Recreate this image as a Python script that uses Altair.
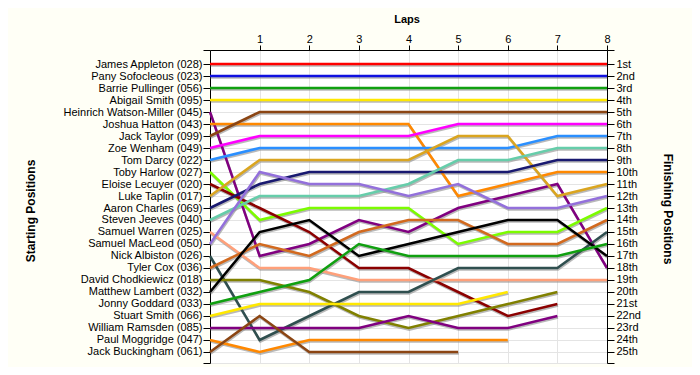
import json
import altair as alt
import pandas as pd

# Drivers in starting order (index 0 = starting position 1)
drivers = [
    "James Appleton (028)", "Pany Sofocleous (023)", "Barrie Pullinger (056)",
    "Abigail Smith (095)", "Heinrich Watson-Miller (045)", "Joshua Hatton (043)",
    "Jack Taylor (099)", "Zoe Wenham (049)", "Tom Darcy (022)", "Toby Harlow (027)",
    "Eloise Lecuyer (020)", "Luke Taplin (017)", "Aaron Charles (069)",
    "Steven Jeeves (040)", "Samuel Warren (025)", "Samuel MacLeod (050)",
    "Nick Albiston (026)", "Tyler Cox (036)", "David Chodkiewicz (018)",
    "Matthew Lambert (032)", "Jonny Goddard (033)", "Stuart Smith (066)",
    "William Ramsden (085)", "Paul Moggridge (047)", "Jack Buckingham (061)",
]
colors = [
    "#ff0000", "#1010e0", "#10a010", "#ffe800", "#800080", "#ff8800",
    "#8b4513", "#ff00ff", "#2a8fff", "#7cfc00", "#8b0000", "#daa520",
    "#191970", "#66cdaa", "#ffa07a", "#9370db", "#2f4f4f", "#d2691e",
    "#808000", "#000000", "#10a010", "#ffe800", "#800080", "#ff8800",
    "#8b4513",
]
finish_labels = [
    "1st", "2nd", "3rd", "4th", "5th", "6th", "7th", "8th", "9th", "10th",
    "11th", "12th", "13th", "14th", "15th", "16th", "17th", "18th", "19th",
    "20th", "21st", "22nd", "23rd", "24th", "25th",
]
lap_ticks = [1, 2, 3, 4, 5, 6, 7, 8]

# Position of each driver (same order as drivers) after each lap; None = retired
lap0 = [1, 2, 3, 4, 5, 6, 7, 8, 9, 10, 11, 12, 13, 14, 15, 16, 17, 18, 19, 20, 21, 22, 23, 24, 25]
lap1 = [1, 2, 3, 4, 17, 6, 5, 7, 8, 14, 13, 9, 11, 12, 18, 10, 24, 16, 19, 15, 20, 21, 23, 25, 22]
lap2 = [1, 2, 3, 4, 16, 6, 5, 7, 8, 13, 15, 9, 10, 12, 18, 11, 22, 17, 20, 14, 19, 21, 23, 24, 25]
lap3 = [1, 2, 3, 4, 14, 6, 5, 7, 8, 13, 18, 9, 10, 12, 19, 11, 20, 15, 22, 17, 16, 21, 23, 24, 25]
lap4 = [1, 2, 3, 4, 15, 6, 5, 7, 8, 13, 18, 9, 10, 11, 19, 12, 20, 14, 23, 16, 17, 21, 22, 24, 25]
lap5 = [1, 2, 3, 4, 13, 12, 5, 6, 8, 16, 20, 7, 10, 9, 19, 11, 18, 14, 22, 15, 17, 21, 23, 24, 25]
lap6 = [1, 2, 3, 4, 12, 11, 5, 6, 8, 15, 22, 7, 10, 9, 19, 13, 18, 16, 21, 14, 17, 20, 23, 24, None]
lap7 = [1, 2, 3, 4, 11, 10, 5, 6, 7, 15, 21, 12, 9, 8, 19, 13, 18, 16, 20, 14, 17, None, 22, None, None]
lap8 = [1, 2, 3, 4, 18, 10, 5, 6, 7, 13, None, 11, 9, 8, 19, 12, 15, 14, None, 17, 16, None, None, None, None]
laps = [lap0, lap1, lap2, lap3, lap4, lap5, lap6, lap7, lap8]

rows = []
for li, lap in enumerate(laps):
    for d, p in zip(drivers, lap):
        if p is not None:
            rows.append({"driver": d, "lap": li, "pos": p})
df = pd.DataFrame(rows)

Y0, Y1 = -0.1667, 25.9167
ytick_vals = [Y0] + list(range(1, 26)) + [Y1]
yscale = alt.Scale(domain=[Y0, Y1], nice=False, zero=False, reverse=True)
xscale = alt.Scale(domain=[0, 8], nice=False, zero=False)

FONT = "Liberation Sans"
names_js = json.dumps(drivers)
finish_js = json.dumps(finish_labels)
valid = "datum.value >= 1 && datum.value <= 25 && abs(datum.value - round(datum.value)) < 0.001"
left_expr = f"{valid} ? {names_js}[round(datum.value) - 1] : ''"
right_expr = f"{valid} ? {finish_js}[round(datum.value) - 1] : ''"

W, H = 397, 313

shadow = alt.Chart(df).mark_line(
    color="#8a8a8a", strokeWidth=2.5, opacity=0.6, xOffset=0.7, yOffset=1.6,
    strokeCap="butt"
).encode(
    x=alt.X("lap:Q", scale=xscale, axis=None),
    y=alt.Y("pos:Q", scale=yscale, axis=alt.Axis(
        orient="right", values=ytick_vals, labelExpr=right_expr, grid=False,
        tickSize=7, tickColor="#000", domainColor="#000", labelPadding=2,
        labelFont=FONT, labelFontSize=11, labelColor="#000",
        title="Finishing Positions", titleFont=FONT, titleFontSize=12,
        titleFontWeight="bold", titleColor="#000", titleAngle=90,
        titleX=60, titleY=H / 2 + 2, titleAlign="center", titleBaseline="middle",
        labelOverlap=False, labelFlush=False, zindex=1,
    )),
    detail="driver:N",
    order="lap:Q",
)

lines = alt.Chart(df).mark_line(strokeWidth=2.5, strokeCap="butt").encode(
    x=alt.X("lap:Q", scale=xscale, axis=alt.Axis(
        orient="top", values=lap_ticks, format="d", grid=True,
        gridColor="#e4e4e4", gridWidth=1, tickSize=5, tickColor="#000",
        domainColor="#000", labelPadding=1, labelFont=FONT, labelFontSize=11,
        labelColor="#000", title="Laps", titleFont=FONT, titleFontSize=11,
        titleFontWeight="bold", titleColor="#000", titleX=W / 2 - 2, titleY=-31,
        titleAlign="center", titleBaseline="middle", labelFlush=False, zindex=0,
    )),
    y=alt.Y("pos:Q", scale=yscale, axis=alt.Axis(
        orient="left", values=ytick_vals, labelExpr=left_expr, grid=True,
        gridColor="#e4e4e4", gridWidth=1, tickSize=7, tickColor="#000",
        domainColor="#000", labelPadding=1, labelFont=FONT, labelFontSize=11,
        labelColor="#000", title="Starting Positions", titleFont=FONT,
        titleFontSize=12, titleFontWeight="bold", titleColor="#000",
        titleAngle=270, titleX=-180, titleY=H / 2 + 4, titleAlign="center",
        titleBaseline="middle", labelOverlap=False, labelFlush=False, zindex=0,
    )),
    color=alt.Color("driver:N", scale=alt.Scale(domain=drivers, range=colors), legend=None),
    detail="driver:N",
    order="lap:Q",
)

chart = alt.layer(shadow, lines).resolve_axis(
    x="independent", y="independent"
).properties(
    width=W, height=H,
    autosize=alt.AutoSizeParams(type="none"),
    padding={"left": 202, "top": 42, "right": 85, "bottom": 4},
    background="#fffff6",
).configure_view(fill="#ffffff", stroke=None)

chart.save("out.html", embed_options={"renderer": "svg", "actions": False})
